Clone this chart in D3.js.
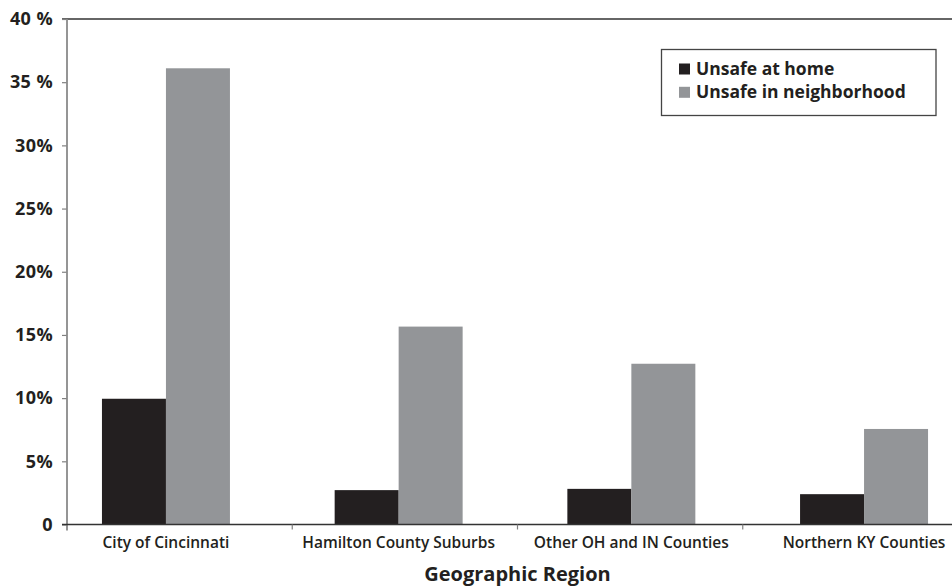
<!DOCTYPE html>
<html>
<head>
<meta charset="utf-8">
<script src="https://cdn.jsdelivr.net/npm/d3@7"></script>
<style>
  html, body { margin: 0; padding: 0; background: #fff; }
  svg { display: block; }
  text { font-family: "Open Sans", "Noto Sans", sans-serif; fill: #231f20; }
</style>
</head>
<body>
<svg id="chart" width="952" height="588"></svg>
<script>
// Share of respondents who feel unsafe, by geographic region
const regions = ["City of Cincinnati", "Hamilton County Suburbs", "Other OH and IN Counties", "Northern KY Counties"];
const seriesNames = ["Unsafe at home", "Unsafe in neighborhood"];
const unsafeAtHome = [9.95, 2.72, 2.82, 2.4];
const unsafeInNeighborhood = [36.1, 15.66, 12.72, 7.56];
const yTicks = [0, 5, 10, 15, 20, 25, 30, 35, 40];
const yTickLabels = ["0", "5%", "10%", "15%", "20%", "25%", "30%", "35 %", "40 %"];
const xTitle = "Geographic Region";

const seriesColors = ["#231f20", "#939598"];
const rows = regions.map((r, i) => ({ region: r, values: [unsafeAtHome[i], unsafeInNeighborhood[i]] }));

const svg = d3.select("#chart");
const axisLeftX = 67;
const plotRight = 968;

const y = d3.scaleLinear().domain([0, 40]).range([524.5, 19]);

// Bar groups
const x0 = d3.scaleBand().domain(regions)
  .range([49.6, 980.4]).paddingInner(0.45).paddingOuter(0.225);
const x1 = d3.scaleBand().domain(seriesNames).range([0, x0.bandwidth()]);
// Category divisions along the axis
const xAxisBand = d3.scaleBand().domain(regions).range([axisLeftX, plotRight]);

// Top frame line
svg.append("line")
  .attr("x1", axisLeftX - 5).attr("x2", 952)
  .attr("y1", y(40)).attr("y2", y(40))
  .attr("stroke", "#333").attr("stroke-width", 1.3);

// Bars
const g = svg.append("g");
g.selectAll("g.grp").data(rows).join("g")
  .attr("class", "grp")
  .attr("transform", d => `translate(${x0(d.region)},0)`)
  .selectAll("rect").data(d => d.values.map((v, k) => ({ k, v }))).join("rect")
  .attr("x", d => x1(seriesNames[d.k]))
  .attr("width", x1.bandwidth())
  .attr("y", d => y(d.v))
  .attr("height", d => y(0) - y(d.v))
  .attr("fill", d => seriesColors[d.k]);

// Y axis
const yAxis = svg.append("g")
  .attr("transform", `translate(${axisLeftX},0)`)
  .call(d3.axisLeft(y).tickValues(yTicks).tickSize(5).tickPadding(9)
    .tickFormat((d, i) => yTickLabels[i]));
yAxis.select(".domain").remove();
yAxis.selectAll(".tick line").attr("stroke", "#808080").attr("stroke-width", 1.2);
yAxis.selectAll(".tick text")
  .attr("font-size", 18).attr("font-weight", 700)
  .attr("letter-spacing", 0.4)
  .style("font-family", "'Open Sans', 'Noto Sans', sans-serif").attr("fill", "#231f20");
yAxis.append("line")
  .attr("x1", 0).attr("x2", 0).attr("y1", y(40)).attr("y2", y(0) + 6)
  .attr("stroke", "#8a8a8a").attr("stroke-width", 1.8);

// X axis baseline and division ticks
svg.append("line")
  .attr("x1", axisLeftX - 5).attr("x2", 952)
  .attr("y1", y(0)).attr("y2", y(0))
  .attr("stroke", "#333").attr("stroke-width", 1.3);
svg.append("g").selectAll("line").data(regions.slice(1)).join("line")
  .attr("x1", d => xAxisBand(d)).attr("x2", d => xAxisBand(d))
  .attr("y1", y(0)).attr("y2", y(0) + 5)
  .attr("stroke", "#808080").attr("stroke-width", 1.2);

// Category labels
svg.append("g").selectAll("text").data(regions).join("text")
  .attr("x", d => x0(d) + x0.bandwidth() / 2)
  .attr("y", 548)
  .attr("text-anchor", "middle")
  .attr("font-size", 15.5).attr("font-weight", 600)
  .text(d => d);

// Axis title
svg.append("text")
  .attr("x", (axisLeftX + plotRight) / 2).attr("y", 581)
  .attr("text-anchor", "middle")
  .attr("font-size", 20).attr("font-weight", 700)
  .text(xTitle);

// Legend
const legend = svg.append("g");
legend.append("rect")
  .attr("x", 661.5).attr("y", 49.5).attr("width", 274.5).attr("height", 66)
  .attr("fill", "#fff").attr("stroke", "#444").attr("stroke-width", 1.3);
const items = legend.selectAll("g.item").data(seriesNames).join("g")
  .attr("class", "item")
  .attr("transform", (d, i) => `translate(679,${63.5 + i * 23.3})`);
items.append("rect").attr("width", 11).attr("height", 11)
  .attr("fill", (d, i) => seriesColors[i]);
items.append("text").attr("x", 17).attr("y", 11.5)
  .attr("font-size", 17.5).attr("font-weight", 700)
  .text(d => d);
</script>
</body>
</html>
